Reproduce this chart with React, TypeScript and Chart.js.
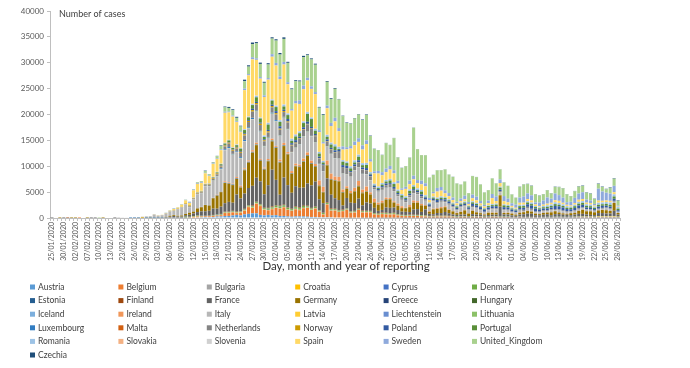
import React, { useEffect, useRef } from 'react';
import { Chart, registerables } from 'chart.js';
Chart.register(...registerables);

const FONT = 'Lato, "Liberation Sans", Arial, sans-serif';

const DAY_MONTH = [
  '25/01','26/01','27/01','30/01','31/01','01/02','02/02','04/02','05/02','07/02',
  '08/02','09/02','10/02','11/02','12/02','13/02','15/02','22/02','23/02','24/02',
  '25/02','26/02','27/02','28/02','29/02',
  '01/03','02/03','03/03','04/03','05/03','06/03','07/03','08/03','09/03','10/03',
  '11/03','12/03','13/03','14/03','15/03','16/03','17/03','18/03','19/03','20/03',
  '21/03','22/03','23/03','24/03','25/03','26/03','27/03','28/03','29/03','30/03','31/03',
  '01/04','02/04','03/04','04/04','05/04','06/04','07/04','08/04','09/04','10/04',
  '11/04','12/04','13/04','14/04','15/04','16/04','17/04','18/04','19/04','20/04',
  '21/04','22/04','23/04','24/04','25/04','26/04','27/04','28/04','29/04','30/04',
  '01/05','02/05','03/05','04/05','05/05','06/05','07/05','08/05','09/05','10/05',
  '11/05','12/05','13/05','14/05','15/05','16/05','17/05','18/05','19/05','20/05',
  '21/05','22/05','23/05','24/05','25/05','26/05','27/05','28/05','29/05','30/05','31/05',
  '01/06','02/06','03/06','04/06','05/06','06/06','07/06','08/06','09/06','10/06',
  '11/06','12/06','13/06','14/06','15/06','16/06','17/06','18/06','19/06','20/06',
  '21/06','22/06','23/06','24/06','25/06','26/06','27/06','28/06',
];
const DATES = DAY_MONTH.map((d) => d + '/2020');

const AT = [0,0,0,0,0,0,0,0,0,0, 0,0,0,0,0,0,0,0,0,0, 2,2,1,0,3,4,4,8,6,14, 20,20,25,35,50,60,100,120,150,200,
  150,200,300,300,400,400,500,600,500,700, 800,900,900,600,500,600,500,550,400,400, 300,250,300,300,300,250,200,200,150,150,
  150,150,100,100,80,80,60,80,80,60, 60,50,50,50,50,50,50,50,50,40, 40,40,40,40,40,30,30,30,30,30,
  30,30,30,20,20,20,20,20,20,20, 20,20,20,20,20,20,20,20,20,20, 20,20,20,20,20,20,20,20,20,20,
  20,20,20,30,40,40,40,40,40,40, 40,40,40,40,30];
const BE = [0,0,0,0,0,0,0,1,0,0, 0,0,0,0,0,0,0,0,0,0, 0,0,0,0,0,1,6,0,6,50, 60,60,60,30,40,70,115,160,130,130,
  170,180,190,240,558,558,586,342,526,668, 1298,1049,1850,1702,1063,876,1189,1384,1422,1661, 1260,1123,1380,1209,1580,1684,1351,1629,1040,530,
  2454,1236,1329,1054,1236,1487,933,973,1487,1000, 1032,1032,647,553,701,660,606,660,455,361, 323,345,352,347,300,250,200,200,250,250,
  250,250,200,150,200,200,150,200,200,200, 150,150,200,200,150,150,150,100,100,150, 100,100,100,100,100,80,80,80,80,80,
  80,80,80,80,80,80,80,80,60,80, 80,80,80,80,50];
const BG = [0,0,0,0,0,0,0,0,0,0, 0,0,0,0,0,0,0,0,0,0, 0,0,0,0,0,0,0,0,0,0, 0,0,0,4,0,2,3,12,10,10,
  10,20,20,20,20,20,40,30,20,30, 40,20,30,30,40,20,30,40,40,30, 30,30,40,40,30,40,30,40,50,40,
  30,50,40,40,30,50,40,40,30,40, 40,50,40,30,40,50,40,60,30,40, 40,50,60,30,50,40,40,50,40,30,
  40,30,40,30,20,30,20,30,40,30, 30,30,30,40,30,40,40,40,50,50, 50,60,50,50,60,70,80,80,90,100,
  80,70,90,80,100,100,90,80,60,100, 110,120,120,130,90];
const HR = [0,0,0,0,0,0,0,0,0,0, 0,0,0,0,0,0,0,0,0,0, 0,0,1,1,0,0,2,1,2,2, 1,2,1,1,1,3,10,15,20,10,
  20,30,20,30,40,50,50,60,60,70, 60,60,70,60,70,50,60,60,60,50, 50,40,40,40,50,40,40,40,30,30,
  30,30,20,30,20,20,20,20,20,20, 10,10,10,10,10,10,10,10,5,5, 5,5,5,5,5,5,2,2,2,2,
  2,2,2,2,2,2,2,2,2,2, 2,2,2,2,2,2,2,2,2,2, 2,2,2,2,2,2,2,5,5,5,
  5,10,10,20,20,30,40,50,60,80, 70,80,90,90,70];
const CY = [0,0,0,0,0,0,0,0,0,0, 0,0,0,0,0,0,0,0,0,0, 0,0,0,0,0,0,0,0,0,0, 0,0,0,0,2,0,4,4,10,10,
  20,10,20,10,20,30,20,30,20,30, 30,20,30,20,20,40,20,30,20,20, 20,20,30,20,20,20,20,20,20,10,
  20,10,10,10,10,10,10,10,10,5, 5,5,5,5,5,5,5,5,5,5, 2,2,2,2,2,2,2,2,2,2,
  2,2,2,2,2,2,2,2,2,2, 2,2,2,2,2,2,2,2,2,2, 2,2,2,2,2,2,2,2,2,2,
  2,2,2,2,2,2,2,2,2,2, 2,2,2,2,2];
const DK = [0,0,0,0,0,0,0,0,0,0, 0,0,0,0,0,0,0,0,0,0, 0,0,1,0,1,1,1,2,4,10, 12,10,14,15,160,90,100,160,80,35,
  40,50,80,100,100,100,100,80,100,150, 150,200,180,200,200,250,250,300,300,300, 300,250,300,300,350,200,200,200,150,200,
  200,200,200,200,150,150,150,150,150,150, 150,150,150,150,150,150,150,150,120,120, 120,120,120,120,120,120,100,100,100,100,
  100,80,80,80,80,80,70,70,70,60, 60,60,60,60,60,60,60,40,40,40, 40,40,40,40,40,40,40,40,40,40,
  40,40,40,40,40,40,40,40,30,40, 40,40,40,40,20];
const EE = [0,0,0,0,0,0,0,0,0,0, 0,0,0,0,0,0,0,0,0,0, 0,0,1,0,0,0,0,0,0,1, 3,5,0,0,0,3,10,30,50,40,
  30,70,60,40,40,30,60,30,40,60, 40,60,50,30,40,30,40,30,50,40, 30,20,40,30,40,30,20,30,20,20,
  20,30,20,30,20,15,15,10,10,15, 10,10,5,5,5,5,10,5,5,5, 5,5,5,5,5,2,2,2,2,2,
  2,2,2,2,2,2,2,2,2,2, 2,2,2,2,2,2,2,2,2,2, 2,2,2,2,2,2,2,2,2,2,
  2,2,2,2,2,2,2,2,2,2, 2,2,2,2,2];
const FI = [0,0,0,0,1,0,0,0,0,0, 0,0,0,0,0,0,0,0,0,0, 0,0,0,0,1,0,1,3,0,1, 4,5,3,3,10,15,40,50,40,30,
  30,40,20,50,60,80,40,70,60,80, 80,100,60,70,60,100,150,120,90,80, 90,70,100,120,150,120,100,90,80,60,
  100,150,100,90,80,60,70,100,120,150, 100,80,60,80,100,100,90,80,70,50, 60,80,60,70,60,50,30,50,40,40,
  40,30,30,20,30,30,20,20,20,20, 20,10,20,20,20,10,10,10,10,10, 10,10,10,10,5,10,10,10,10,5,
  10,5,5,10,10,10,5,5,5,10, 10,5,5,10,5];
const FR = [3,0,0,1,0,0,0,0,0,0, 1,5,0,0,0,0,1,0,0,0, 0,2,20,20,43,30,61,60,34,73, 138,290,177,190,290,372,495,595,785,838,
  924,1210,1097,1404,1617,1847,1559,3300,2446,2931, 3300,3809,4611,4375,2599,4376,7100,4861,2116,5233, 4267,3073,3912,3777,3340,4286,4342,4785,2080,1830,
  4664,2641,2000,1909,785,2000,1653,1500,1827,1000, 1600,1400,1000,500,500,1000,1000,1000,800,600, 600,500,1000,1100,600,1155,400,300,500,500,
  700,500,300,300,300,300,100,400,300,300, 200,300,300,300,1900,400,400,300,200,400, 500,600,600,300,300,400,500,300,500,500,
  400,400,300,400,500,500,400,300,300,600, 600,500,500,1000,400];
const DE = [0,0,1,3,0,1,2,2,0,1, 1,0,0,2,0,0,0,0,0,0, 0,3,20,9,26,57,29,32,52,80, 188,160,150,200,240,400,350,700,800,1200,
  1000,2000,2500,2800,3900,3500,3400,3000,2100,4500, 4900,6400,6294,3965,4751,4615,5453,6156,6174,6082, 5936,3677,3834,4003,4974,5323,4133,2821,2537,2082,
  2486,2866,3380,3609,2458,1775,1785,2237,2352,2337, 2055,1737,1018,1144,1304,1478,1639,945,793,679, 685,947,1284,1209,1251,667,357,933,798,933,
  913,620,583,342,513,797,460,638,431,289, 182,432,362,353,2200,286,301,333,213,342, 394,507,407,301,214,350,318,555,555,301,
  247,192,378,345,580,770,601,687,537,503, 587,630,477,1500,300];
const GR = [0,0,0,0,0,0,0,0,0,0, 0,0,0,0,0,0,0,0,0,0, 0,0,1,1,1,3,0,2,2,0, 20,13,0,27,16,10,20,25,40,20,
  30,50,60,40,30,60,65,70,50,60, 70,50,50,60,80,60,80,60,50,60, 40,60,20,50,30,50,60,30,20,25,
  20,30,20,30,20,15,15,20,60,20, 15,10,15,10,10,15,15,10,10,5, 10,5,10,10,10,10,5,5,5,5,
  10,5,5,5,5,10,5,10,5,5, 5,5,5,5,10,10,5,5,10,10, 10,15,15,10,10,15,10,10,10,10,
  10,10,10,10,10,10,10,10,10,10, 10,10,10,15,10];
const HU = [0,0,0,0,0,0,0,0,0,0, 0,0,0,0,0,0,0,0,0,0, 0,0,0,0,0,0,0,0,0,0, 2,2,3,2,3,3,3,6,6,10,
  11,11,14,22,30,35,37,40,20,40, 35,40,50,60,40,40,70,50,70,70, 50,40,70,60,70,80,70,100,80,50,
  80,100,70,50,100,60,80,60,70,90, 60,40,40,50,60,70,50,40,40,30, 40,40,30,30,30,30,20,30,20,20,
  20,20,15,10,20,20,20,10,10,10, 10,10,10,10,10,10,10,10,10,10, 10,10,10,10,10,5,5,5,10,5,
  5,5,5,5,5,5,5,5,5,5, 5,5,10,10,5];
const IS = [0,0,0,0,0,0,0,0,0,0, 0,0,0,0,0,0,0,0,0,0, 0,0,0,1,1,3,6,5,10,10, 9,20,6,10,20,20,20,30,30,60,
  50,30,40,60,90,70,90,60,60,70, 90,90,70,60,70,50,60,90,90,70, 40,30,50,30,40,40,30,20,10,20,
  20,10,10,10,10,5,5,5,5,5, 5,2,2,2,2,2,2,2,2,1, 1,1,1,1,1,1,1,1,1,1,
  1,1,1,1,1,1,1,1,1,1, 1,1,1,1,1,1,1,1,1,1, 1,1,1,1,1,1,1,1,1,1,
  1,1,1,1,1,1,1,1,1,1, 1,1,1,1,1];
const IE = [0,0,0,0,0,0,0,0,0,0, 0,0,0,0,0,0,0,0,0,0, 0,0,0,0,1,0,1,0,0,1, 5,5,1,2,5,10,9,27,20,40,
  40,40,70,74,190,126,100,200,219,204, 235,302,294,200,200,295,325,212,402,424, 331,390,370,345,515,500,480,430,990,990,
  832,1068,700,780,500,400,388,631,936,577, 936,377,701,376,386,343,221,197,376,330, 59,373,400,290,240,150,150,100,150,200,
  150,100,80,60,50,50,60,50,50,50, 50,40,50,50,50,50,50,40,30,40, 40,40,30,30,20,20,20,20,20,20,
  20,20,20,20,20,20,20,20,20,20, 20,20,20,20,10];
const IT = [0,0,0,0,2,0,0,0,0,0, 0,0,0,0,0,0,0,17,60,76, 94,125,60,210,230,240,561,347,420,587, 769,778,1247,1492,1797,977,2313,2651,2547,3497,
  3590,3233,3526,4207,6000,6557,5560,4789,5249,5210, 6153,5959,5974,5217,4050,4053,4782,4668,4585,4805, 4316,3599,3039,3836,4204,3951,4694,4092,3153,2972,
  2667,3786,3493,3491,3047,2256,2729,3370,2646,3021, 2357,2324,1739,2091,2086,1872,1965,1900,1389,1221, 1075,1444,1401,1327,1083,802,744,1402,888,992,
  789,875,675,451,813,665,642,652,669,531, 300,397,584,593,516,416,355,178,318,321, 177,518,270,197,280,283,202,379,163,346,
  338,301,210,329,333,251,262,224,218,122, 190,296,259,175,174];
const LV = [0,0,0,0,0,0,0,0,0,0, 0,0,0,0,0,0,0,0,0,0, 0,0,0,0,0,0,1,0,0,0, 0,0,1,2,4,7,6,0,10,20,
  20,30,20,10,20,20,20,10,30,30, 20,20,30,20,20,30,20,30,20,30, 20,20,20,10,20,20,10,20,10,10,
  10,10,10,10,10,10,10,10,10,10, 10,10,5,5,5,5,5,5,5,5, 5,5,5,5,5,5,5,5,5,5,
  5,5,2,2,2,2,2,2,2,2, 2,2,2,2,2,2,2,2,2,2, 2,2,2,2,2,2,2,2,2,2,
  2,2,2,2,2,2,2,2,2,2, 2,2,2,2,2];
const LI = [0,0,0,0,0,0,0,0,0,0, 0,0,0,0,0,0,0,0,0,0, 0,0,0,0,0,0,0,0,0,0, 0,0,0,0,1,0,0,1,2,1,
  2,1,3,5,3,5,6,4,5,5, 5,4,3,3,4,3,2,3,2,2, 2,1,1,2,1,0,1,1,0,1,
  0,1,0,0,1,0,0,0,1,0, 0,0,0,0,0,0,0,0,0,0, 0,0,0,0,0,0,0,0,0,0,
  0,0,0,0,0,0,0,0,0,0, 0,0,0,0,0,0,0,0,0,0, 0,0,0,0,0,0,0,0,0,0,
  0,0,0,0,0,0,0,0,0,0, 0,0,0,0,0];
const LT = [0,0,0,0,0,0,0,0,0,0, 0,0,0,0,0,0,0,0,0,0, 0,0,0,1,0,0,0,0,0,0, 0,0,0,0,1,2,3,3,5,6,
  8,10,20,30,30,40,30,20,50,40, 60,40,50,40,40,30,40,40,30,50, 40,30,40,30,50,40,40,30,30,20,
  30,30,30,20,20,20,20,20,20,20, 20,20,20,20,20,15,15,10,10,10, 10,10,10,10,10,10,10,10,10,10,
  10,10,10,10,10,10,10,5,5,5, 5,5,5,5,5,5,5,5,5,5, 5,5,5,5,5,5,5,5,5,5,
  5,5,5,5,5,5,5,5,5,5, 5,5,5,5,5];
const LU = [0,0,0,0,0,0,0,0,0,0, 0,0,0,0,0,0,0,0,0,0, 0,0,0,0,0,0,0,0,0,1, 0,2,0,2,2,3,19,12,25,17,
  43,59,64,140,135,186,128,130,200,190, 150,231,152,131,78,130,192,223,95,135, 100,39,42,72,70,62,52,50,32,37,
  35,30,45,30,20,14,15,17,8,21, 15,14,13,10,8,25,5,10,5,4, 3,5,10,7,5,5,3,3,5,4,
  6,4,2,3,2,3,2,2,4,2, 2,1,3,2,2,5,1,2,2,3, 4,5,5,3,2,5,4,3,5,6,
  4,5,4,7,10,8,12,10,5,13, 20,22,24,30,26];
const MT = [0,0,0,0,0,0,0,0,0,0, 0,0,0,0,0,0,0,0,0,0, 0,0,0,0,0,0,0,0,0,0, 0,0,1,0,0,4,3,8,5,5,
  5,10,10,10,10,10,20,10,20,20, 10,20,20,20,10,20,10,20,20,20, 10,20,10,20,10,20,10,10,10,10,
  10,10,10,10,5,5,5,5,5,5, 5,5,5,5,5,5,5,5,5,5, 5,5,5,5,5,5,5,5,5,5,
  5,5,5,5,5,5,5,5,5,5, 5,5,5,5,5,5,5,5,5,5, 2,2,2,2,2,2,2,2,2,2,
  2,2,2,2,2,2,2,2,2,2, 2,2,2,2,2];
const NL = [0,0,0,0,0,0,0,0,0,0, 0,0,0,0,0,0,0,0,0,0, 0,0,0,1,6,5,8,6,20,44, 44,46,60,77,56,187,121,111,190,155,
  176,278,292,346,534,637,573,545,811,852, 1019,1172,1159,1104,884,845,1019,1083,1026,904, 1224,1212,777,969,1213,1335,1316,1174,1019,964,
  868,734,1061,1235,1066,1066,750,729,887,800, 655,708,400,171,386,475,514,445,335,199, 232,386,450,300,300,300,200,150,200,200,
  200,200,200,150,150,200,150,200,200,150, 150,150,200,200,200,200,200,150,100,200, 200,200,200,150,150,150,150,150,200,200,
  150,150,100,150,150,150,100,100,100,150, 150,150,150,150,50];
const NO = [0,0,0,0,0,0,0,0,0,0, 0,0,0,0,0,0,0,0,0,0, 0,0,1,0,6,4,6,6,17,25, 40,50,60,60,120,200,100,150,120,100,
  100,150,200,150,200,200,200,200,200,250, 200,300,300,250,200,250,250,250,200,200, 200,150,150,100,100,100,100,100,80,60,
  80,80,80,60,50,50,50,50,50,50, 50,40,40,40,40,40,40,40,30,30, 30,30,30,30,30,30,20,20,20,20,
  20,20,20,20,20,20,10,10,10,10, 10,10,10,10,10,10,10,10,10,10, 10,10,10,10,10,10,10,10,10,10,
  10,10,10,10,10,10,10,10,10,10, 10,10,10,10,5];
const PL = [0,0,0,0,0,0,0,0,0,0, 0,0,0,0,0,0,0,0,0,0, 0,0,0,0,0,0,0,1,0,0, 0,1,5,6,6,5,14,18,20,43,
  50,52,60,100,100,100,100,130,150,170, 150,250,200,220,193,256,243,392,463,244, 475,311,475,325,370,400,300,318,260,270,
  380,300,350,360,500,545,263,313,381,355, 460,312,250,300,300,300,300,380,300,200, 300,300,300,300,400,300,300,300,400,300,
  300,400,300,300,300,300,300,400,400,400, 400,400,400,400,300,400,400,380,300,300, 400,500,600,575,400,350,400,350,600,600,
  600,400,400,400,500,500,300,300,250,400, 400,350,350,400,250];
const PT = [0,0,0,0,0,0,0,0,0,0, 0,0,0,0,0,0,0,0,0,0, 0,0,0,0,0,0,2,2,0,0, 5,8,9,9,9,20,18,35,47,57,
  80,86,117,194,260,320,260,320,460,633, 549,724,902,792,446,1035,808,783,852,638, 754,452,712,699,815,1516,1516,638,598,349,
  514,643,750,181,657,521,516,371,663,444, 595,163,92,183,295,376,515,553,331,426, 242,533,480,178,553,138,98,234,219,285,
  264,226,173,264,219,252,189,288,271,138, 165,271,219,304,350,350,300,200,195,366, 331,350,300,290,230,250,300,300,350,300,
  300,260,280,330,350,375,320,300,230,350, 300,350,350,450,300];
const RO = [0,0,0,0,0,0,0,0,0,0, 0,0,0,0,0,0,0,0,0,0, 0,1,0,0,2,0,0,0,0,0, 1,3,6,2,2,10,16,30,40,30,
  35,50,60,80,60,60,70,100,100,130, 120,160,260,150,250,300,200,250,300,350, 300,400,350,350,300,350,300,350,300,300,
  350,350,400,400,300,300,400,400,400,400, 400,300,300,300,300,300,300,350,300,250, 300,300,300,300,300,300,250,200,250,250,
  200,200,200,200,200,200,150,200,200,150, 150,150,200,200,200,200,200,200,150,250, 250,250,300,200,200,250,300,300,350,350,
  300,300,250,300,350,350,300,300,250,400, 350,350,450,400,300];
const SK = [0,0,0,0,0,0,0,0,0,0, 0,0,0,0,0,0,0,0,0,0, 0,0,0,0,0,0,0,0,0,0, 0,1,0,2,4,3,11,11,20,30,
  30,20,30,10,40,30,40,40,30,30, 40,30,30,20,40,60,40,30,30,30, 40,20,100,20,30,50,40,20,20,20,
  40,30,20,30,20,10,20,20,10,20, 10,10,10,5,5,10,10,5,5,5, 5,5,5,5,5,5,2,2,2,2,
  2,2,2,2,2,2,2,2,2,2, 2,2,2,2,2,2,2,2,2,2, 2,2,2,2,2,2,2,2,2,2,
  2,2,2,5,5,5,5,5,5,5, 5,5,5,10,5];
const SI = [0,0,0,0,0,0,0,0,0,0, 0,0,0,0,0,0,0,0,0,0, 0,0,0,0,0,0,0,0,0,1, 1,6,4,4,3,18,40,40,50,40,
  40,30,30,30,50,40,40,30,40,50, 50,50,40,30,40,30,30,50,40,30, 20,20,20,30,20,20,20,20,10,20,
  20,20,10,10,10,10,10,10,10,10, 10,5,5,5,5,5,5,5,5,5, 5,5,5,5,2,2,2,2,2,2,
  2,2,2,2,2,2,2,2,2,2, 2,2,2,2,2,2,2,2,2,2, 2,2,2,2,2,2,2,2,2,5,
  5,5,5,5,5,5,10,10,10,10, 10,15,10,10,10];
const ES = [0,0,0,0,1,0,0,0,0,1, 0,0,0,0,0,0,0,0,0,0, 2,6,10,17,13,17,45,70,36,57, 90,250,180,400,560,400,1400,1600,1500,2000,
  1400,2500,2500,2600,5800,5300,5900,4300,3000,7500, 7900,8600,6900,7500,7400,8300,8200,7700,7900,7700, 5600,5400,5900,5250,6200,6060,5470,6675,3800,3300,
  5100,3180,4410,3000,2020,2344,3392,2915,2458,2600, 3637,2014,2004,2496,1482,1500,1800,1700,1200,800, 1419,1000,1100,1000,1100,1700,500,600,1162,1098,
  700,600,500,400,300,400,300,600,500,400, 300,400,1145,500,700,600,500,300,200,400, 400,400,400,300,200,250,300,300,400,400,
  300,250,200,300,400,400,300,300,200,400, 300,300,300,400,100];
const SE = [0,0,0,0,0,1,0,0,0,0, 0,0,0,0,0,0,0,0,0,0, 0,1,1,0,5,1,7,2,6,37, 42,100,24,55,103,145,146,160,150,100,
  100,100,120,150,200,150,200,150,150,300, 250,400,300,300,300,300,500,500,500,500, 400,300,500,700,700,500,500,400,400,300,
  500,600,700,600,600,400,500,700,700,800, 700,500,400,500,600,700,700,600,500,300, 400,700,700,600,700,600,400,300,700,700,
  600,600,500,300,500,700,400,700,700,500, 300,500,800,900,700,1000,700,500,600,1000, 1200,1100,1000,400,700,800,1200,800,1300,1100,
  1000,500,700,1000,1200,1300,600,500,300,2300, 1800,1500,1400,1235,200];
const UK = [0,0,0,0,2,0,0,0,0,0, 1,0,4,1,0,0,0,0,0,4, 0,0,0,2,5,12,13,13,12,34, 48,46,45,67,46,52,83,134,208,342,
  251,152,407,676,850,706,1035,665,967,1427, 1452,2546,2885,2546,2433,2619,3009,4324,4244,4450, 3735,3800,3802,3634,5491,4344,5195,5288,4342,5252,
  4605,4617,5599,5526,5850,4676,4301,4451,4583,4913, 4913,4463,4309,3996,3300,4896,4010,6201,4511,3934, 3985,4406,9253,5959,4923,5400,3923,3271,3403,3242,
  4014,3560,3979,3534,2684,2716,1700,3572,3779,3192, 2409,2010,3000,2490,1934,2638,2445,1709,1326,2071, 2308,1805,1823,1557,1326,1205,1387,1003,1266,1541,
  1785,1514,1056,1279,1337,1218,1346,1295,958,921, 874,653,1118,1380,901];
const CZ = [0,0,0,0,0,0,0,0,0,0, 0,0,0,0,0,0,0,0,0,0, 0,0,0,0,0,3,3,2,2,2, 7,7,7,12,7,30,22,35,40,80,
  50,80,60,100,150,200,180,200,150,300, 250,300,250,250,200,250,250,250,300,300, 200,200,200,200,250,200,200,200,150,150,
  150,150,150,100,100,100,80,100,100,100, 100,80,50,50,50,50,50,50,50,40, 40,40,40,40,40,40,30,30,30,30,
  30,30,30,30,30,30,30,30,30,30, 30,30,30,30,30,30,30,30,30,50, 50,50,60,60,60,60,60,60,60,60,
  60,60,60,60,80,80,80,80,60,80, 80,100,100,100,100];

const COUNTRIES = ['Austria','Belgium','Bulgaria','Croatia','Cyprus','Denmark','Estonia','Finland','France','Germany','Greece','Hungary','Iceland','Ireland','Italy','Latvia','Liechtenstein','Lithuania','Luxembourg','Malta','Netherlands','Norway','Poland','Portugal','Romania','Slovakia','Slovenia','Spain','Sweden','United_Kingdom','Czechia'];
const SERIES = [AT, BE, BG, HR, CY, DK, EE, FI, FR, DE, GR, HU, IS, IE, IT, LV, LI, LT, LU, MT, NL, NO, PL, PT, RO, SK, SI, ES, SE, UK, CZ];
const COLORS = ['#5B9BD5','#ED7D31','#A5A5A5','#FFC000','#4472C4','#70AD47','#255E91','#9E480E','#636363','#997300','#264478','#43682B','#7CAFDD','#F1975A','#B7B7B7','#FFCD33','#698ED0','#8CC168','#327DC2','#D26012','#848484','#CC9A00','#335AA1','#5A8F39','#9DC3E6','#F4B183','#D0D0D0','#FFD966','#8FAADC','#A9D18E','#1F4E79'];

const Y_TITLE = 'Number of cases';
const X_TITLE = 'Day, month and year of reporting';

const extrasPlugin = {
  id: 'extras',
  afterDraw(chart: any) {
    const ctx = chart.ctx;
    ctx.save();
    ctx.textBaseline = 'middle';
    ctx.textAlign = 'left';
    ctx.font = `9px ${FONT}`;
    ctx.fillStyle = '#404040';
    ctx.fillText(Y_TITLE, 59, 14);
    ctx.textAlign = 'center';
    ctx.font = `11.5px ${FONT}`;
    ctx.fillStyle = '#333333';
    ctx.fillText(X_TITLE, 346, 266);
    ctx.textAlign = 'left';
    ctx.font = `8.5px ${FONT}`;
    chart.data.datasets.forEach((ds: any, i: number) => {
      const col = i % 6;
      const row = Math.floor(i / 6);
      const x = 30 + col * 88.4;
      const y = 287 + row * 13.6;
      ctx.fillStyle = ds.backgroundColor;
      ctx.fillRect(x, y - 2.5, 5, 5);
      ctx.fillStyle = '#404040';
      ctx.fillText(ds.label, x + 8, y);
    });
    ctx.restore();
  },
};

export default function App() {
  const ref = useRef<HTMLCanvasElement>(null);
  useEffect(() => {
    if (!ref.current) return;
    const chart = new Chart(ref.current, {
      type: 'bar',
      data: {
        labels: DATES,
        datasets: COUNTRIES.map((name, i) => ({
          label: name,
          data: SERIES[i],
          backgroundColor: COLORS[i],
          borderWidth: 0,
          barPercentage: 0.78,
          categoryPercentage: 1,
          stack: 'all',
        })),
      },
      options: {
        responsive: false,
        animation: false,
        layout: { padding: { left: 0, right: 70, top: 11, bottom: 92 } },
        plugins: { legend: { display: false }, tooltip: { enabled: false }, title: { display: false } },
        scales: {
          x: {
            stacked: true,
            grid: { display: true, drawOnChartArea: false, drawTicks: true, tickLength: 3, color: '#BFBFBF' },
            border: { display: true, color: '#BFBFBF' },
            ticks: {
              autoSkip: false,
              maxRotation: 90,
              minRotation: 90,
              padding: 1,
              color: '#595959',
              font: { family: FONT, size: 7 },
              callback: (_v: any, i: number) => (i % 3 === 0 ? DATES[i] : ''),
            },
            title: { display: false },
            afterFit: (s: any) => { s.height = 58; },
          },
          y: {
            stacked: true,
            min: 0,
            max: 40000,
            grid: { display: true, drawOnChartArea: false, drawTicks: true, tickLength: 3, color: '#BFBFBF' },
            border: { display: true, color: '#BFBFBF' },
            ticks: {
              stepSize: 5000,
              padding: 3,
              color: '#595959',
              font: { family: FONT, size: 8 },
              callback: (v: any) => String(v),
            },
            afterFit: (s: any) => { s.width = 50; },
          },
        },
      },
      plugins: [extrasPlugin],
    });
    return () => chart.destroy();
  }, []);
  return (
    <div style={{ position: 'absolute', left: 0, top: 0, width: 690, height: 368, background: '#fff' }}>
      <canvas ref={ref} width={690} height={368} />
    </div>
  );
}
